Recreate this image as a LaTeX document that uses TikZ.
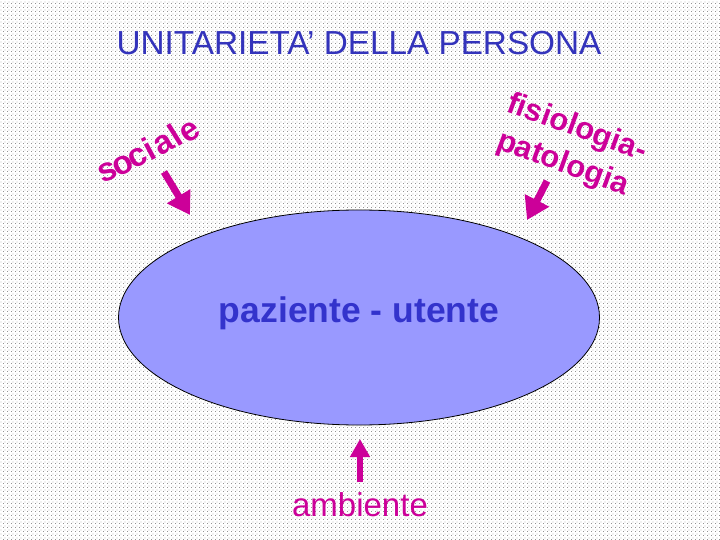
\documentclass[tikz,border=0pt]{standalone}
\usepackage{fontspec}
\setmainfont{Liberation Sans}
\usetikzlibrary{arrows.meta,patterns,shapes.geometric}
\pgfdeclarepatternformonly{bgdots}{\pgfqpoint{0bp}{0bp}}{\pgfqpoint{4bp}{4bp}}{\pgfqpoint{4bp}{4bp}}{%
  \pgfpathrectangle{\pgfqpoint{0bp}{0bp}}{\pgfqpoint{1bp}{1bp}}%
  \pgfpathrectangle{\pgfqpoint{2bp}{2bp}}{\pgfqpoint{1bp}{1bp}}%
  \pgfusepath{fill}}
\definecolor{titleblue}{HTML}{3333BB}
\definecolor{mag}{HTML}{CC0099}
\definecolor{ellfill}{HTML}{9999FF}
\definecolor{elltext}{HTML}{3333CC}
\tikzset{
  magarrow/.style={draw=mag, line width=7bp, -{Triangle[width=26bp,length=22bp]}},
  smallarrow/.style={draw=mag, line width=6bp, -{Triangle[width=19bp,length=18bp]}},
  rotword/.style={text=mag, font=\fontsize{31bp}{36bp}\selectfont\bfseries, inner sep=0pt},
  socletter/.style={text=mag, font=\fontsize{33bp}{36bp}\selectfont\bfseries, inner sep=0pt, anchor=base},
}
\begin{document}
\begin{tikzpicture}[x=1bp,y=-1bp]
\fill[white] (0,0) rectangle (720,540);
\fill[pattern=bgdots, pattern color=gray!85] (0,0) rectangle (720,540);
\useasboundingbox (0,0) rectangle (720,540);

\node[anchor=base, text=titleblue, font=\fontsize{33.3bp}{38bp}\selectfont, inner sep=0pt] (title) at (359,55) {UNITARIETA’ DELLA PERSONA};

\node[ellipse, draw=black, line width=0.8bp, fill=ellfill, minimum width=481bp, minimum height=215bp, inner sep=0pt] (pz) at (359,317.5) {};
\node[anchor=base, text=elltext, font=\fontsize{35.5bp}{40bp}\selectfont\bfseries, inner sep=0pt] (pzt) at (359,322) {paziente - utente};

\foreach \ch/\px/\py/\r [count=\i] in {s/111/180/22, o/127/173/24, c/142/165/26, i/155/159/28, a/168/152/30, l/181/145/32, e/195/139/34}
  \node[socletter, rotate=\r] (soc\i) at (\px,\py) {\ch};

\node[rotword, anchor=base west, rotate=-20] (fis) at (505,111) {fisiologia-};
\node[rotword, anchor=base west, rotate=-20] (pat) at (495,148) {patologia};

\node[anchor=base, text=mag, font=\fontsize{33bp}{38bp}\selectfont, inner sep=0pt] (amb) at (360,516) {ambiente};

\coordinate (s1) at (164,172);
\coordinate (s2) at (190,215);
\draw[magarrow] (s1) -- (s2);
\coordinate (f1) at (547,181);
\coordinate (f2) at (527,220);
\draw[magarrow] (f1) -- (f2);
\coordinate (a1) at (360,482);
\coordinate (a2) at (360,439);
\draw[smallarrow] (a1) -- (a2);
\end{tikzpicture}
\end{document}
